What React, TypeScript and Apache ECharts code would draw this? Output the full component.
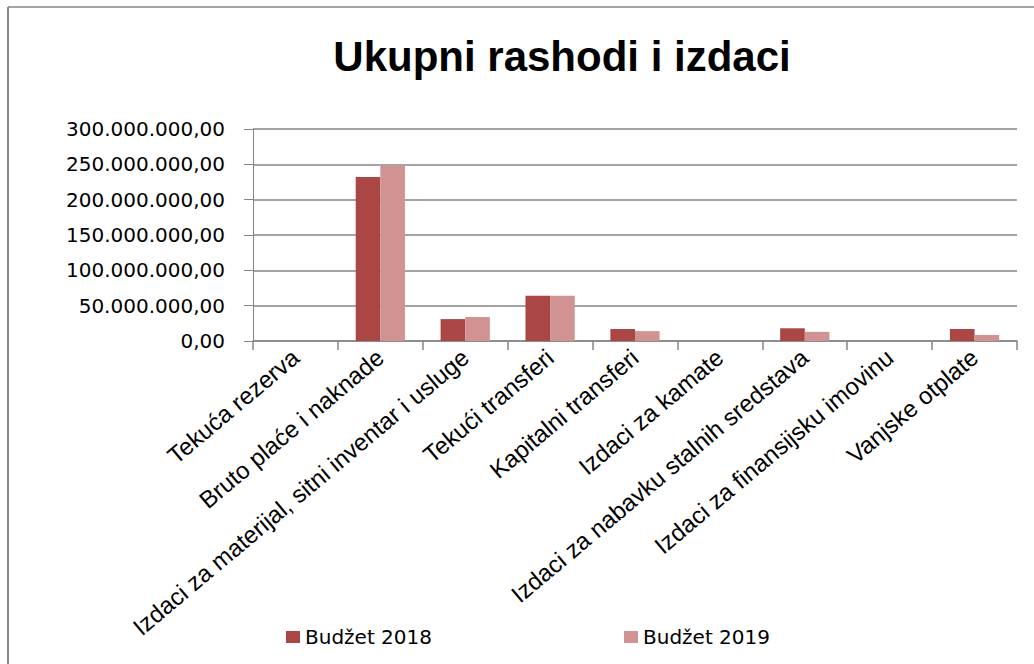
import React, { useEffect, useRef } from "react";
import * as echarts from "echarts";

const categories = [
  "Tekuća rezerva",
  "Bruto plaće i naknade",
  "Izdaci za materijal, sitni inventar i usluge",
  "Tekući transferi",
  "Kapitalni transferi",
  "Izdaci za kamate",
  "Izdaci za nabavku stalnih sredstava",
  "Izdaci za finansijsku imovinu",
  "Vanjske otplate",
];
const budzet2018 = [0, 232000000, 31000000, 64000000, 17000000, 0, 18000000, 0, 17000000];
const budzet2019 = [0, 248000000, 34000000, 64000000, 14000000, 0, 13000000, 0, 8500000];
const seriesNames = ["Budžet 2018", "Budžet 2019"];
const titleText = "Ukupni rashodi i izdaci";

const fmt = (v: number) =>
  Math.round(v).toString().replace(/\B(?=(\d{3})+(?!\d))/g, ".") + ",00";

export default function App() {
  const ref = useRef<HTMLDivElement>(null);
  useEffect(() => {
    if (!ref.current) return;
    const chart = echarts.init(ref.current, null, { renderer: "svg" });
    const grey = "#868686";
    chart.setOption({
      animation: false,
      backgroundColor: "#ffffff",
      graphic: [
        { type: "line", shape: { x1: 8, y1: 7, x2: 1034, y2: 7 }, style: { stroke: grey, lineWidth: 1.5 } },
        { type: "line", shape: { x1: 8, y1: 7, x2: 8, y2: 664 }, style: { stroke: grey, lineWidth: 2 } },
        {
          type: "text",
          x: 562,
          y: 56,
          style: {
            text: titleText,
            font: "bold 42px 'Liberation Sans'",
            fill: "#000",
            align: "center",
            verticalAlign: "middle",
          },
        },
      ],
      legend: [
        {
          data: [seriesNames[0]],
          left: 281,
          top: 622,
          itemWidth: 14,
          itemHeight: 12,
          icon: "rect",
          textStyle: { fontFamily: "DejaVu Sans", fontSize: 20, color: "#000" },
        },
        {
          data: [seriesNames[1]],
          left: 619,
          top: 622,
          itemWidth: 14,
          itemHeight: 12,
          icon: "rect",
          textStyle: { fontFamily: "DejaVu Sans", fontSize: 20, color: "#000" },
        },
      ],
      grid: { left: 253, right: 17, top: 129, bottom: 323, containLabel: false },
      xAxis: {
        type: "category",
        data: categories,
        boundaryGap: true,
        axisLine: { lineStyle: { color: grey, width: 1.5 } },
        axisTick: { show: true, length: 9, inside: false, lineStyle: { color: grey, width: 1.5 } },
        axisLabel: {
          interval: 0,
          rotate: 40,
          margin: 13,
          fontFamily: "Liberation Sans",
          fontSize: 24,
          color: "#000",
        },
      },
      yAxis: {
        type: "value",
        min: 0,
        max: 300000000,
        interval: 50000000,
        axisLine: { show: true, lineStyle: { color: grey, width: 1 } },
        axisTick: { show: true, length: 9, lineStyle: { color: grey } },
        splitLine: { lineStyle: { color: grey, width: 1.5 } },
        axisLabel: {
          formatter: fmt,
          margin: 28,
          fontFamily: "DejaVu Sans",
          fontSize: 20,
          color: "#000",
        },
      },
      series: [
        {
          name: seriesNames[0],
          type: "bar",
          data: budzet2018,
          barGap: "0%",
          barCategoryGap: "42%",
          itemStyle: { color: "#AA4643" },
        },
        {
          name: seriesNames[1],
          type: "bar",
          data: budzet2019,
          barGap: "0%",
          barCategoryGap: "42%",
          itemStyle: { color: "#D19392" },
        },
      ],
    });
    return () => chart.dispose();
  }, []);
  return (
    <div
      ref={ref}
      style={{ position: "fixed", left: 0, top: 0, width: 1034, height: 664 }}
    />
  );
}
